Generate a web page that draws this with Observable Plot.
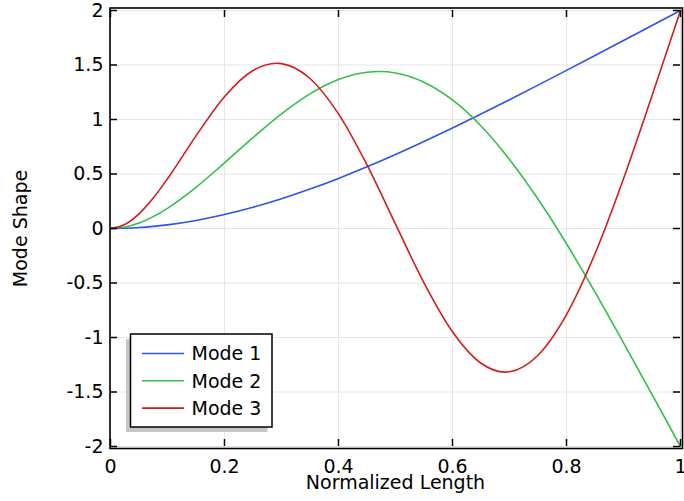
<!DOCTYPE html>
<html>
<head>
<meta charset="utf-8">
<script src="https://cdn.jsdelivr.net/npm/d3@7"></script>
<script src="https://cdn.jsdelivr.net/npm/@observablehq/plot@0.6"></script>
<style>
  body { margin: 0; background: #fff; }
  #chart svg { display: block; }
</style>
</head>
<body>
<div id="chart"></div>
<script>
// Normalized position along the cantilever and the three mode shapes sampled there
const position = [0, 0.025, 0.05, 0.075, 0.1, 0.15, 0.2, 0.25, 0.3, 0.35, 0.4, 0.45, 0.5,
                  0.55, 0.6, 0.65, 0.7, 0.75, 0.8, 0.85, 0.9, 0.95, 1];
const mode1 = [0, 0.0022, 0.0086, 0.0191, 0.0335, 0.0737, 0.1277, 0.1946, 0.2730, 0.3618, 0.4598, 0.5659, 0.6790,
               0.7982, 0.9223, 1.0504, 1.1818, 1.3155, 1.4510, 1.5875, 1.7248, 1.8624, 2.0];
const mode2 = [0, 0.0132, 0.0507, 0.1091, 0.1853, 0.3776, 0.6021, 0.8345, 1.0523, 1.2354, 1.3669, 1.4339, 1.4273,
               1.3425, 1.1790, 0.9404, 0.6341, 0.2700, -0.1401, -0.5833, -1.0485, -1.5222, -2.0];
const mode3 = [0, 0.0360, 0.1341, 0.2793, 0.4561, 0.8496, 1.2090, 1.4490, 1.5125, 1.3761, 1.0518, 0.5835, 0.0394,
               -0.4986, -0.9476, -1.2361, -1.3149, -1.1629, -0.7897, -0.2316, 0.4571, 1.2170, 2.0];

const seriesNames = ["Mode 1", "Mode 2", "Mode 3"];
const seriesColors = ["#2f52ea", "#34c046", "#d41c1c"];
const xTicks = [0, 0.2, 0.4, 0.6, 0.8, 1];
const yTicks = [-2, -1.5, -1, -0.5, 0, 0.5, 1, 1.5, 2];
const xLabel = "Normalized Length";
const yLabel = "Mode Shape";

const rows = [mode1, mode2, mode3].flatMap((values, k) =>
  values.map((v, i) => ({x: position[i], y: v, mode: seriesNames[k]})));

// Smooth interpolating curve: cubic Hermite segments in x, with slopes taken
// from the parabola through each point and its neighbours (works with uneven spacing).
function curveSmoothX(context) {
  let xs, ys;
  return {
    areaStart() {}, areaEnd() {},
    lineStart() { xs = []; ys = []; },
    point(x, y) { xs.push(+x); ys.push(+y); },
    lineEnd() {
      const n = xs.length;
      if (!n) return;
      context.moveTo(xs[0], ys[0]);
      if (n < 3) { if (n === 2) context.lineTo(xs[1], ys[1]); return; }
      const h = [], s = [], d = new Array(n);
      for (let i = 0; i < n - 1; i++) { h[i] = xs[i + 1] - xs[i]; s[i] = (ys[i + 1] - ys[i]) / h[i]; }
      d[0] = s[0] - h[0] * (s[1] - s[0]) / (h[0] + h[1]);
      d[n - 1] = s[n - 2] + h[n - 2] * (s[n - 2] - s[n - 3]) / (h[n - 3] + h[n - 2]);
      for (let i = 1; i < n - 1; i++) d[i] = (s[i - 1] * h[i] + s[i] * h[i - 1]) / (h[i - 1] + h[i]);
      for (let i = 0; i < n - 1; i++) {
        const t = h[i] / 3;
        context.bezierCurveTo(xs[i] + t, ys[i] + t * d[i], xs[i + 1] - t, ys[i + 1] - t * d[i + 1], xs[i + 1], ys[i + 1]);
      }
    }
  };
}

const W = 684, H = 501;
const margin = {top: 10, right: 4, bottom: 55, left: 110};
const tickLen = 7;
const font = "DejaVu Sans, sans-serif";
const fs = 19;

const chart = Plot.plot({
  width: W,
  height: H,
  marginTop: margin.top,
  marginRight: margin.right,
  marginBottom: margin.bottom,
  marginLeft: margin.left,
  style: {fontFamily: font, fontSize: fs + "px", color: "#000", background: "#fff"},
  x: {domain: [0, 1]},
  y: {domain: [-2, 2]},
  color: {domain: seriesNames, range: seriesColors},
  marks: [
    Plot.gridX(xTicks, {stroke: "#e6e6e6", strokeOpacity: 1, strokeWidth: 1}),
    Plot.gridY(yTicks, {stroke: "#e6e6e6", strokeOpacity: 1, strokeWidth: 1}),
    Plot.line(rows, {x: "x", y: "y", stroke: "mode", z: "mode", curve: curveSmoothX, strokeWidth: 1.6}),
    // inward tick marks on all four sides
    Plot.ruleX(xTicks, {x: d => d, y1: -2, y2: -2, insetBottom: tickLen, stroke: "#000", strokeWidth: 1.5}),
    Plot.ruleX(xTicks, {x: d => d, y1: 2, y2: 2, insetTop: tickLen, stroke: "#000", strokeWidth: 1.5}),
    Plot.ruleY(yTicks, {y: d => d, x1: 0, x2: 0, insetLeft: tickLen, stroke: "#000", strokeWidth: 1.5}),
    Plot.ruleY(yTicks, {y: d => d, x1: 1, x2: 1, insetRight: tickLen, stroke: "#000", strokeWidth: 1.5}),
    Plot.frame({stroke: "#000", strokeWidth: 1.6, insetTop: -2.5, insetRight: -2, insetBottom: -2, insetLeft: -0.5}),
    Plot.axisX(xTicks, {tickSize: 0, tickPadding: 13, tickFormat: d => String(d), label: null, fill: "#000", fontSize: fs}),
    Plot.axisY(yTicks, {tickSize: 0, tickPadding: 7, tickFormat: d => String(d), label: null, fill: "#000", fontSize: fs}),
    Plot.text([xLabel], {frameAnchor: "bottom", dy: 36, lineAnchor: "middle", textAnchor: "middle",
                         text: d => d, fill: "#000", fontSize: fs}),
    Plot.text([yLabel], {frameAnchor: "left", dx: -90, rotate: -90, lineAnchor: "middle", textAnchor: "middle",
                         text: d => d, fill: "#000", fontSize: fs})
  ]
});

// legend box with drop shadow in the lower-left corner of the plot area
const svg = d3.select(chart);
const lg = svg.append("g").attr("font-family", font).attr("font-size", fs).attr("text-anchor", "start");
const box = {x: 130.5, y: 334, w: 141.5, h: 93};
lg.append("rect").attr("x", box.x - 4.5).attr("y", box.y + 5).attr("width", box.w).attr("height", box.h)
  .attr("fill", "#c6c6c6");
lg.append("rect").attr("x", box.x).attr("y", box.y).attr("width", box.w).attr("height", box.h)
  .attr("fill", "#fff").attr("stroke", "#000").attr("stroke-width", 1.5);
seriesNames.forEach((name, i) => {
  const cy = box.y + 19.5 + i * 27.3;
  lg.append("line").attr("x1", box.x + 11.5).attr("x2", box.x + 53.5).attr("y1", cy).attr("y2", cy)
    .attr("stroke", seriesColors[i]).attr("stroke-width", 1.6);
  lg.append("text").attr("x", box.x + 61).attr("y", cy).attr("dy", "0.36em").attr("fill", "#000").text(name);
});

document.getElementById("chart").appendChild(chart);
</script>
</body>
</html>
